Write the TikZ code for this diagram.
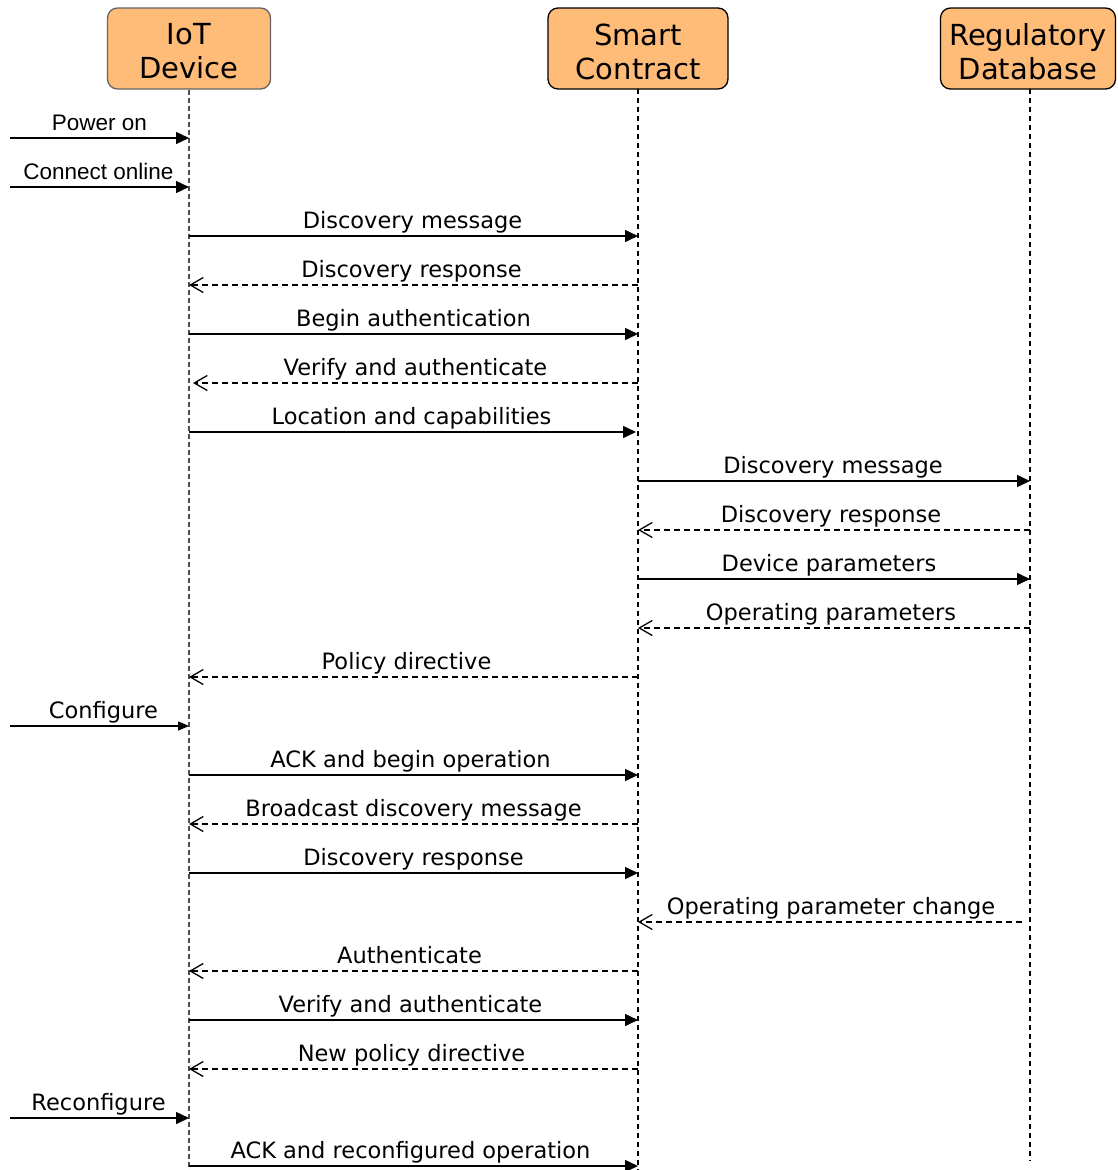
\documentclass[tikz,border=0pt]{standalone}
\usepackage{fontspec}
\setmainfont{DejaVu Sans}
\newfontfamily\arialfont{Liberation Sans}
\usetikzlibrary{arrows.meta}

\definecolor{headfill}{RGB}{255,187,120}
\definecolor{softgray}{RGB}{100,100,100}
\definecolor{lifegray}{RGB}{80,80,80}

\begin{document}
\begin{tikzpicture}[x=1pt,y=-1pt,
  head/.style={draw, fill=headfill, rounded corners=10pt, line width=1.3pt,
    inner sep=0pt, minimum height=81pt},
  headtext/.style={align=center, inner sep=0pt, font=\fontsize{29}{34}\selectfont},
  life/.style={line width=1.5pt, dash pattern=on 5pt off 4pt},
  call/.style={line width=1.5pt, -{Triangle[length=13pt,width=12pt]}},
  smallcall/.style={line width=1.5pt, -{Triangle[length=11pt,width=9pt]}},
  reply/.style={line width=1.3pt, dash pattern=on 6pt off 4pt,
    -{Straight Barb[length=13pt,width=15pt,line width=1.3pt]}},
  lbl/.style={font=\fontsize{22.5}{26}\selectfont, anchor=base, inner sep=0pt, yshift=8pt},
  albl/.style={font=\arialfont\fontsize{22.5}{26}\selectfont, anchor=base, inner sep=0pt, yshift=8pt}
]
\useasboundingbox (0,0) rectangle (1117,1170);
\clip (0,0) rectangle (1117,1170);

% participants
\node[head, draw=softgray, minimum width=163pt] (iot) at (189,48.5) {};
\node[head, minimum width=180pt] (sc) at (638,48.5) {};
\node[head, minimum width=175pt] (rd) at (1028,48.5) {};
\node[headtext] (iotname) at ([yshift=-3pt]iot.center) {IoT\\Device};
\node[headtext] (scname) at ([yshift=-3pt]sc.center) {Smart\\Contract};
\node[headtext] (rdname) at ([yshift=-3pt]rd.center) {Regulatory\\Database};

% lifeline ends
\coordinate (iotend) at (iot.south |- 0,1172);
\coordinate (scend) at (638,1172);
\coordinate (rdend) at (1030,1161);
\coordinate (rdtop) at (1030,89);
\coordinate (sctop) at (638,89);

\draw[life, lifegray, line width=2pt, dash pattern=on 5pt off 3pt] (iot.south) -- (iotend);
\draw[life] (sctop) -- (scend);
\draw[life] (rdtop) -- (rdend);

% message rows: points on each lifeline and a free start on the left
\foreach \n/\y in {1/138,2/187,3/236,4/285,5/334,6/383,7/432,8/481,9/530,10/579,
                   11/628,12/677,13/726,14/775,15/824,16/873,17/922,18/971,19/1020,
                   20/1069,21/1118,22/1166}{
  \coordinate (o\n) at (10,\y);
  \coordinate (i\n) at (iot.south |- 0,\y);
  \coordinate (s\n) at (sctop |- 0,\y);
  \coordinate (r\n) at (rdtop |- 0,\y);
}
\coordinate (i6b) at ([xshift=4pt]i6);
\coordinate (s7b) at ([xshift=-2pt]s7);
\coordinate (r17b) at ([xshift=-8pt]r17);

\draw[call] (o1) -- node[albl, midway] {Power on} (i1);
\draw[call] (o2) -- node[albl, midway, xshift=-1pt] {Connect online} (i2);
\draw[call] (i3) -- node[lbl, midway, xshift=-1pt] {Discovery message} (s3);
\draw[reply] (s4) -- node[lbl, midway, xshift=-2pt] {Discovery response} (i4);
\draw[call] (i5) -- node[lbl, midway] {Begin authentication} (s5);
\draw[reply] (s6) -- node[lbl, midway] {Verify and authenticate} (i6b);
\draw[call] (i7) -- node[lbl, midway, xshift=-1pt] {Location and capabilities} (s7b);
\draw[call] (s8) -- node[lbl, midway, xshift=-1pt] {Discovery message} (r8);
\draw[reply] (r9) -- node[lbl, midway, xshift=-3pt] {Discovery response} (s9);
\draw[call] (s10) -- node[lbl, midway, xshift=-5pt] {Device parameters} (r10);
\draw[reply] (r11) -- node[lbl, midway, xshift=-3pt] {Operating parameters} (s11);
\draw[reply] (s12) -- node[lbl, midway, xshift=-7pt] {Policy directive} (i12);
\draw[smallcall] (o13) -- node[lbl, midway, xshift=4pt] {Configure} (i13);
\draw[call] (i14) -- node[lbl, midway, xshift=-3pt] {ACK and begin operation} (s14);
\draw[reply] (s15) -- node[lbl, midway] {Broadcast discovery message} (i15);
\draw[call] (i16) -- node[lbl, midway] {Discovery response} (s16);
\draw[reply] (r17b) -- node[lbl, midway, xshift=1pt] {Operating parameter change} (s17);
\draw[reply] (s18) -- node[lbl, midway, xshift=-4pt] {Authenticate} (i18);
\draw[call] (i19) -- node[lbl, midway, xshift=-3pt] {Verify and authenticate} (s19);
\draw[reply] (s20) -- node[lbl, midway, xshift=-2pt] {New policy directive} (i20);
\draw[call] (o21) -- node[lbl, midway, xshift=-1pt] {Reconfigure} (i21);
\draw[call] (i22) -- node[lbl, midway, xshift=-3pt] {ACK and reconfigured operation} (s22);
\end{tikzpicture}
\end{document}
